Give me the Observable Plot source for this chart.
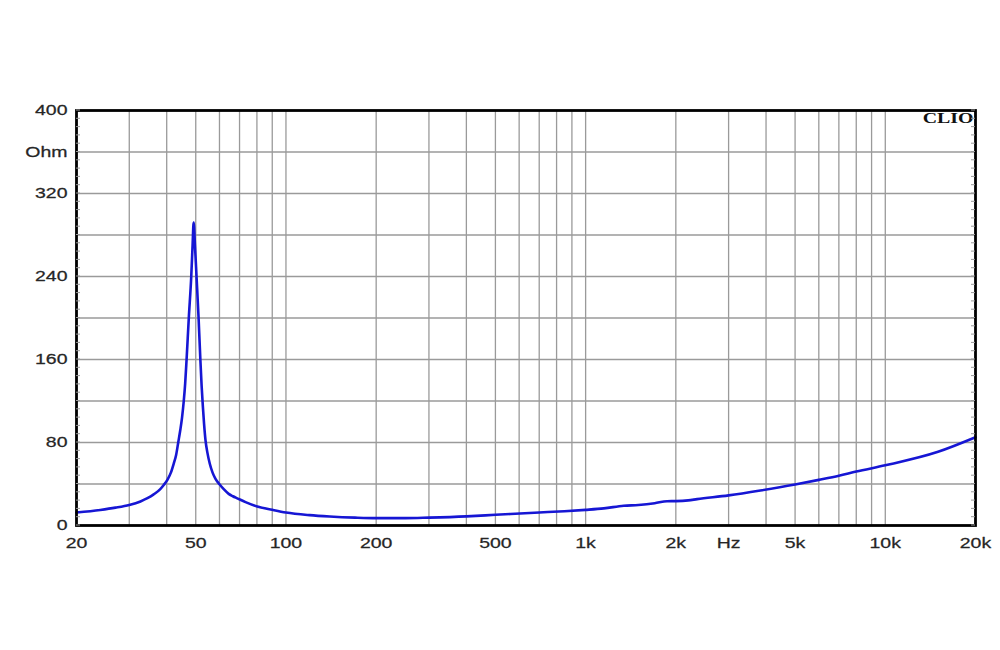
<!DOCTYPE html>
<html>
<head>
<meta charset="utf-8">
<script src="https://cdn.jsdelivr.net/npm/d3@7"></script>
<script src="https://cdn.jsdelivr.net/npm/@observablehq/plot@0.6"></script>
<style>
  html, body { margin: 0; padding: 0; background: #fff; }
  #chart svg { display: block; }
</style>
</head>
<body>
<div id="chart"></div>
<script>
// Impedance curve (frequency in Hz, impedance in Ohm)
const freq = [20, 24, 27, 30, 32.7, 34.5, 36.2, 38, 39.1, 40.3, 41.3, 42.2, 43, 43.7, 44.4, 45.0, 45.6, 46.1, 46.6, 47.4, 48.3, 48.8, 49.2, 49.7, 50.3, 51.1, 51.8, 52.3, 52.8, 53.3, 53.9, 54.7, 55.7, 56.9, 58.2, 60.1, 62, 64.4, 66.5, 68.8, 73.3, 80.2, 90, 100, 120, 140, 170, 200, 250, 300, 400, 500, 700, 850, 1000, 1150, 1340, 1500, 1700, 1870, 2000, 2200, 2356, 3000, 3830, 5000, 6000, 7000, 8000, 10000, 15000, 20000];
const ohm  = [12.5, 15, 17.2, 19.8, 23.2, 26.3, 30, 34.8, 39, 44.5, 51, 59.5, 68, 80, 92, 104, 120, 137, 160, 200, 240, 270, 292, 270, 240, 200, 160, 135, 115, 98, 82, 70, 59.5, 51, 45, 39.5, 35, 30.5, 28.2, 26.2, 22.5, 18.3, 15.1, 12.5, 10, 8.7, 7.6, 7.1, 7.1, 7.6, 8.8, 10.3, 12.6, 13.8, 15.1, 16.5, 19, 19.8, 21.5, 23.4, 23.5, 24.2, 25.4, 29, 33.7, 39.5, 44, 48, 52, 58, 71, 85];

const xTickValues = [20, 50, 100, 200, 500, 1000, 2000, 3000, 5000, 10000, 20000];
const xTickLabels = ["20", "50", "100", "200", "500", "1k", "2k", "Hz", "5k", "10k", "20k"];
const xGrid = [30, 40, 50, 60, 70, 80, 90, 100, 200, 300, 400, 500, 600, 700, 800, 900, 1000, 2000, 3000, 4000, 5000, 6000, 7000, 8000, 9000, 10000];
const yTickValues = [0, 80, 160, 240, 320, 360, 400];
const yTickLabels = ["0", "80", "160", "240", "320", "Ohm", "400"];
const yGrid = [40, 80, 120, 160, 200, 240, 280, 320, 360];
const yMinor = d3.range(0, 401, 8);

const data = freq.map((f, i) => ({f, z: ohm[i]}));
const xLabels = xTickValues.map((v, i) => ({v, t: xTickLabels[i]}));
const yLabels = yTickValues.map((v, i) => ({v, t: yTickLabels[i]}));

const labelFont = "'Liberation Sans', Arial, sans-serif";

const chart = Plot.plot({
  width: 1000,
  height: 650,
  marginLeft: 76,
  marginRight: 25,
  marginTop: 110,
  marginBottom: 125,
  style: {fontFamily: labelFont, fontSize: "15px", color: "#222", background: "#fff"},
  x: {type: "log", domain: [20, 20000], axis: null},
  y: {domain: [0, 400], axis: null},
  marks: [
    Plot.gridX(xGrid, {stroke: "#9a9a9a", strokeOpacity: 1, strokeWidth: 1.3}),
    Plot.gridY(yGrid, {stroke: "#9a9a9a", strokeOpacity: 1, strokeWidth: 1.3}),
    Plot.line(data, {x: "f", y: "z", stroke: "#1616d4", strokeWidth: 2.6, curve: "monotone-x"}),
    Plot.frame({stroke: "#000", strokeWidth: 2.8}),
    Plot.text(yLabels, {y: "v", text: "t", frameAnchor: "left", textAnchor: "end", dx: -9, fontSize: 15, fill: "#262626", stroke: "#262626", strokeWidth: 0.25, className: "wide"}),
    Plot.text(xLabels, {x: "v", text: "t", frameAnchor: "bottom", lineAnchor: "top", dy: 12, fontSize: 15, fill: "#262626", stroke: "#262626", strokeWidth: 0.25, className: "wide"}),
    Plot.text(["CLIO"], {frameAnchor: "top-right", lineAnchor: "top", dx: -2, dy: 3, textAnchor: "end", fontFamily: "'Liberation Serif', 'Times New Roman', serif", fontWeight: "bold", fontSize: 14, fill: "#111", className: "wider"})
  ]
});
document.getElementById("chart").appendChild(chart);

// minor ticks: short inward dashes on the left and right frame edges, positioned by the y scale
const svg = d3.select(chart);
const yScale = chart.scale("y");
const xScale = chart.scale("x");
const xl = xScale.apply(20), xr = xScale.apply(20000);
const g = svg.append("g").attr("stroke", "#999").attr("stroke-width", 1);
for (const v of yMinor) {
  const yy = yScale.apply(v);
  g.append("line").attr("x1", xl).attr("x2", xl + 4).attr("y1", yy).attr("y2", yy);
  g.append("line").attr("x1", xr - 4).attr("x2", xr).attr("y1", yy).attr("y2", yy);
}

// widen text horizontally around its anchor (reference font is horizontally stretched)
function widen(sel, k) {
  svg.selectAll(sel).selectAll("text").each(function () {
    const bb = this.getBBox();
    const anchor = getComputedStyle(this).textAnchor;
    const ax = anchor === "end" ? bb.x + bb.width : anchor === "middle" ? bb.x + bb.width / 2 : bb.x;
    const t = this.getAttribute("transform") || "";
    this.setAttribute("transform", `${t} translate(${ax},0) scale(${k},1) translate(${-ax},0)`);
  });
}
widen(".wide", 1.3);
widen(".wider", 1.42);
</script>
</body>
</html>
